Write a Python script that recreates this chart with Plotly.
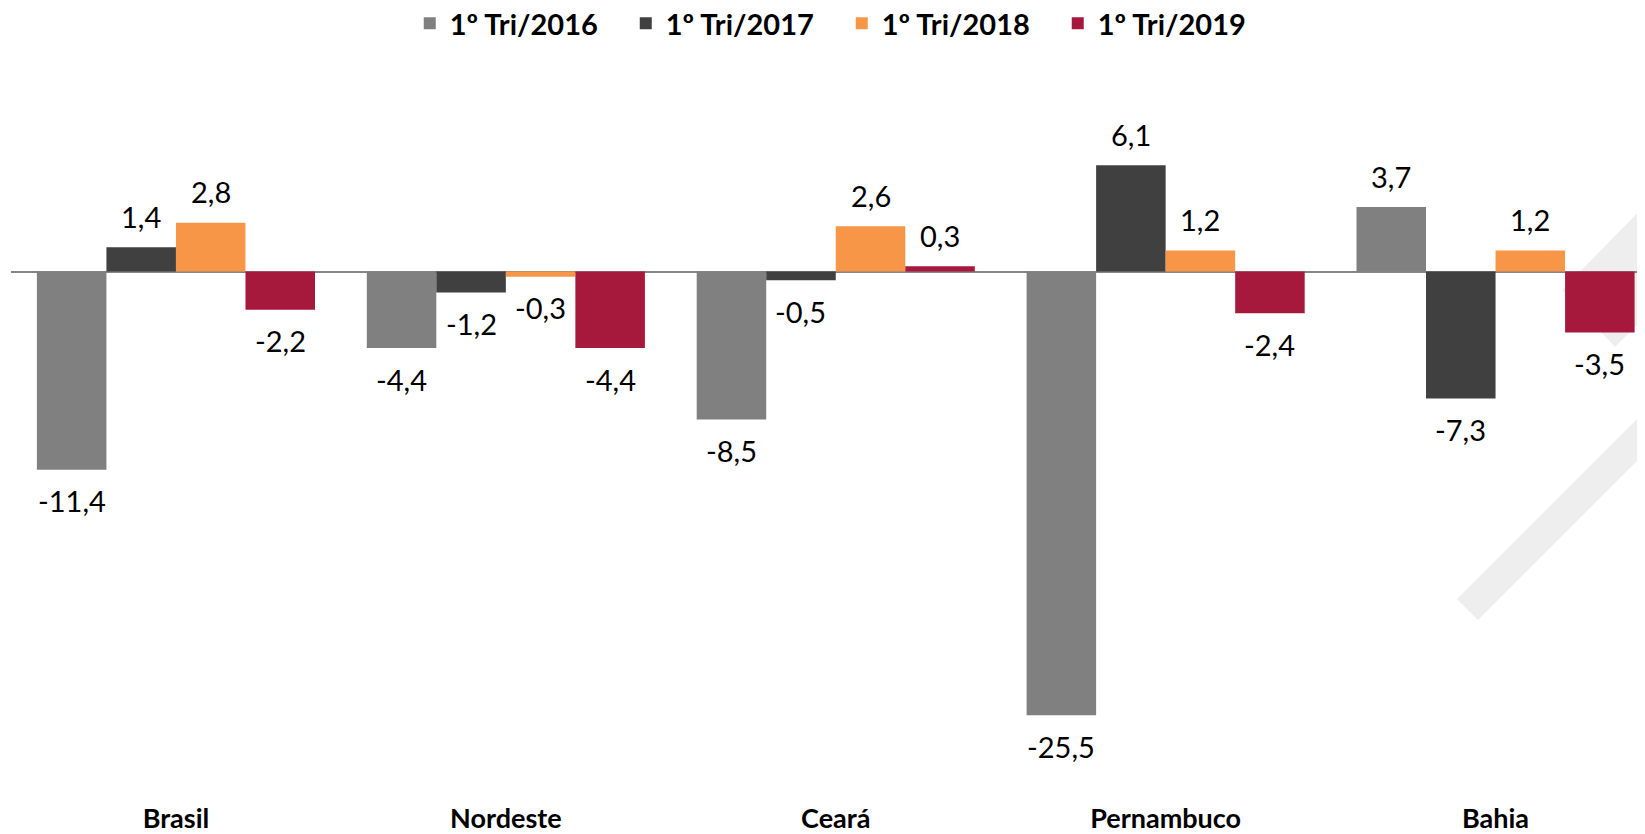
import plotly.graph_objects as go

# ---- data ----
categories = ["Brasil", "Nordeste", "Ceará", "Pernambuco", "Bahia"]
series_names = ["1º Tri/2016", "1º Tri/2017", "1º Tri/2018", "1º Tri/2019"]
v2016 = [-11.4, -4.4, -8.5, -25.5, 3.7]
v2017 = [1.4, -1.2, -0.5, 6.1, -7.3]
v2018 = [2.8, -0.3, 2.6, 1.2, 1.2]
v2019 = [-2.2, -4.4, 0.3, -2.4, -3.5]
series_values = [v2016, v2017, v2018, v2019]
colors = ["#808080", "#404040", "#F79646", "#A6193C"]

# ---- layout geometry (page pixels; the page body has an 8px margin) ----
BODY = 8
W, H = 1645 - BODY, 834 - BODY
plot_left = 11                            # page px
plot_top, plot_bottom = 60, 800           # page px
zero_px = 271.5
px_per_unit = 17.4
cat_px = 329.9
bargap = 0.157
legend_top_page = -2.0

m_l = plot_left - BODY
m_t = plot_top - BODY
m_b = H - (plot_bottom - BODY)
plot_w_fig = W - m_l
plot_h_fig = H - m_t - m_b

x0 = -0.5
x1 = x0 + plot_w_fig / cat_px
y1 = (zero_px - plot_top) / px_per_unit
y0 = -(plot_bottom - zero_px) / px_per_unit

FONT = "Lato, 'Open Sans', Arial, sans-serif"

fig = go.Figure()
xs = list(range(len(categories)))
for name, vals, col in zip(series_names, series_values, colors):
    fig.add_trace(go.Bar(
        x=xs, y=vals, name=name,
        marker=dict(color=col, line=dict(width=0)),
        hoverinfo="skip",
    ))

# data labels
n = len(series_names)
group_w = 1 - bargap
bar_w = group_w / n
annotations = []
for k, vals in enumerate(series_values):
    for i, v in enumerate(vals):
        xi = i - group_w / 2 + (k + 0.5) * bar_w
        annotations.append(dict(
            x=xi, y=v, xref="x", yref="y",
            text=f"{v:.1f}".replace(".", ","),
            showarrow=False,
            yanchor="middle", xanchor="center",
            yshift=31 if v >= 0 else -31,
            font=dict(family=FONT, size=29, color="#000000"),
        ))

# decorative watermark bands (page px -> paper)
def P(px, py):
    fx = px - BODY
    fy = py - BODY
    return ((fx - m_l) / plot_w_fig,
            ((H - m_b) - fy) / plot_h_fig)

def path(points):
    pts = [P(a, b) for a, b in points]
    return "M " + " L ".join(f"{a:.5f},{b:.5f}" for a, b in pts) + " Z"

shapes = [
    dict(type="path", xref="paper", yref="paper", layer="below",
         path=path([(1562, 290), (1615, 347), (1660, 302), (1660, 190)]),
         fillcolor="#EEEEEE", line=dict(width=0)),
    dict(type="path", xref="paper", yref="paper", layer="below",
         path=path([(1457, 599), (1478, 620), (1660, 438), (1660, 396)]),
         fillcolor="#EEEEEE", line=dict(width=0)),
]

legend_x = (401.75 - m_l) / plot_w_fig
legend_y = 1 + (m_t - (legend_top_page - BODY)) / plot_h_fig

fig.update_layout(
    width=W, height=H,
    margin=dict(l=m_l, r=0, t=m_t, b=m_b, pad=0, autoexpand=False),
    paper_bgcolor="white", plot_bgcolor="rgba(0,0,0,0)",
    barmode="group", bargap=bargap, bargroupgap=0,
    showlegend=True,
    legend=dict(
        orientation="h", xref="paper", yref="paper",
        x=legend_x, xanchor="left", y=legend_y, yanchor="top",
        font=dict(family=FONT, size=29, color="#000000", weight="bold"),
        entrywidth=171, entrywidthmode="pixels",
        itemclick=False, itemdoubleclick=False,
        bgcolor="rgba(0,0,0,0)",
    ),
    xaxis=dict(
        range=[x0, x1], tickmode="array", tickvals=xs, ticktext=categories,
        showgrid=False, zeroline=False, showline=False, ticks="",
        tickfont=dict(family=FONT, size=27, color="#000000", weight="bold"),
        fixedrange=True,
    ),
    yaxis=dict(
        range=[y0, y1], showgrid=False, showticklabels=False, ticks="",
        zeroline=True, zerolinecolor="#868686", zerolinewidth=2,
        showline=False, fixedrange=True,
    ),
    annotations=annotations,
    shapes=shapes,
)

fig.write_html("out.html")
